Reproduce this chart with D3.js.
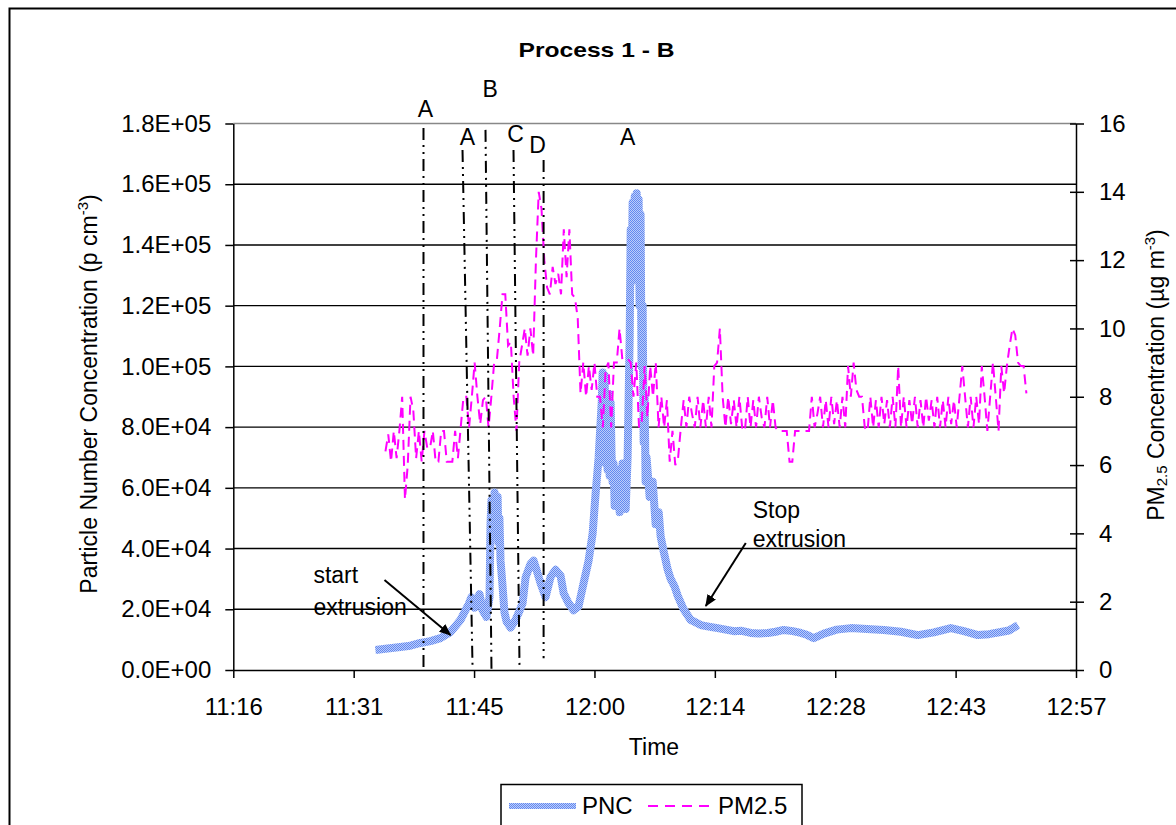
<!DOCTYPE html>
<html><head><meta charset="utf-8">
<script src="https://cdn.jsdelivr.net/npm/d3@7"></script>
<style>
body{margin:0;background:#fff;}
svg text{font-family:"Liberation Sans",Arial,Helvetica,sans-serif;fill:#000;}
</style></head><body>
<svg id="chart" width="1176" height="825"></svg>
<script>
// ---------------- DATA ----------------
const chartTitle = "Process 1 - B";
const xTitle = "Time";
const xTickDays = [0.47, 0.48, 0.49, 0.50, 0.51, 0.52, 0.53, 0.54];
const xTickLabels = ["11:16", "11:31", "11:45", "12:00", "12:14", "12:28", "12:43", "12:57"];
const leftTicks = [0, 20000, 40000, 60000, 80000, 100000, 120000, 140000, 160000, 180000];
const leftTickLabels = ["0.0E+00", "2.0E+04", "4.0E+04", "6.0E+04", "8.0E+04", "1.0E+05", "1.2E+05", "1.4E+05", "1.6E+05", "1.8E+05"];
const rightTicks = [0, 2, 4, 6, 8, 10, 12, 14, 16];
const seriesNames = ["PNC", "PM2.5"];

// PNC (p cm-3): [time, value]
const pncData = [
  ["11:33:48", 6600], ["11:35:00", 7000], ["11:36:47", 7600], ["11:37:59", 8000],
  ["11:39:11", 8900], ["11:40:23", 9500], ["11:41:35", 10500], ["11:42:47", 12500],
  ["11:43:23", 14500], ["11:43:59", 16500], ["11:44:34", 19700], ["11:44:56", 21500],
  ["11:45:17", 24000], ["11:45:39", 20500], ["11:46:01", 23500], ["11:46:15", 25000],
  ["11:46:37", 19700], ["11:47:05", 17500], ["11:47:27", 24000], ["11:47:34", 48000],
  ["11:47:41", 56000], ["11:47:56", 46000], ["11:48:03", 58500], ["11:48:17", 50000],
  ["11:48:25", 57000], ["11:48:31", 42000], ["11:48:38", 50000], ["11:48:46", 36000],
  ["11:49:00", 28000], ["11:49:14", 19000], ["11:49:29", 16000], ["11:49:58", 14000],
  ["11:50:34", 16500], ["11:50:55", 18700], ["11:51:24", 22000], ["11:51:46", 30600],
  ["11:52:22", 35000], ["11:52:43", 36000], ["11:53:04", 33000], ["11:53:33", 28600],
  ["11:54:09", 24000], ["11:54:45", 30600], ["11:55:21", 33000], ["11:55:57", 31000],
  ["11:56:19", 25300], ["11:56:54", 22000], ["11:57:30", 19700], ["11:58:06", 21000],
  ["11:58:42", 28600], ["11:59:18", 36000], ["11:59:47", 45000], ["12:00:08", 58000],
  ["12:00:30", 70000], ["12:00:52", 88000], ["12:00:59", 98000], ["12:01:05", 72000],
  ["12:01:13", 97000], ["12:01:20", 68000], ["12:01:27", 90000], ["12:01:34", 66000],
  ["12:01:41", 91000], ["12:01:49", 64000], ["12:01:56", 88000], ["12:02:03", 70000],
  ["12:02:10", 62000], ["12:02:17", 68000], ["12:02:25", 54000], ["12:02:39", 66000],
  ["12:03:01", 52000], ["12:03:22", 68000], ["12:03:44", 53000], ["12:03:58", 70000],
  ["12:04:13", 110000], ["12:04:20", 145000], ["12:04:27", 128000], ["12:04:34", 154000],
  ["12:04:41", 135000], ["12:04:49", 156000], ["12:04:56", 140000], ["12:05:03", 157000],
  ["12:05:10", 138000], ["12:05:17", 155000], ["12:05:24", 120000], ["12:05:31", 150000],
  ["12:05:38", 100000], ["12:05:46", 120000], ["12:05:53", 75000], ["12:06:00", 90000],
  ["12:06:07", 62000], ["12:06:14", 70000], ["12:06:36", 57000], ["12:06:58", 62000],
  ["12:07:19", 48000], ["12:07:41", 52000], ["12:07:55", 44000], ["12:08:17", 39000],
  ["12:08:46", 33000], ["12:09:07", 30000], ["12:09:35", 27500], ["12:09:57", 24500],
  ["12:10:40", 20000], ["12:11:31", 16500], ["12:12:43", 14800], ["12:13:40", 14300],
  ["12:14:44", 13800], ["12:15:42", 13300], ["12:16:40", 12800], ["12:17:37", 12900],
  ["12:18:41", 12200], ["12:19:39", 12000], ["12:20:44", 12200], ["12:21:41", 12600],
  ["12:22:38", 13200], ["12:23:43", 12800], ["12:24:41", 12200], ["12:25:24", 11600],
  ["12:26:14", 10500], ["12:27:26", 12000], ["12:28:59", 13300], ["12:30:40", 13800],
  ["12:32:35", 13500], ["12:34:37", 13200], ["12:36:39", 12600], ["12:38:41", 11500],
  ["12:40:36", 12400], ["12:42:38", 13800], ["12:44:11", 12800], ["12:45:52", 11500],
  ["12:47:11", 11800], ["12:48:37", 12500], ["12:49:35", 13000], ["12:50:40", 14800]
];

// PM2.5 (ug m-3): sampled every 20 s from pmStart
const pmStart = "11:35:00";
const pmStepSeconds = 20;
const pmValues = [
  6.4, 6.9, 6.1, 7.0, 6.2, 7.0, 8.0, 5.0, 6.0, 8.0, 7.6, 6.2, 7.0, 6.1,
  7.0, 6.5, 6.5, 7.0, 6.1, 6.1, 7.0, 7.0, 6.1, 6.1, 6.1, 7.0, 6.2,
  7.1, 8.0, 8.0, 7.1, 8.0, 9.0,
  8.0, 7.2, 7.9, 8.0, 7.1,
  8.0, 9.0, 9.1,
  10.0, 11.0, 11.0, 9.5,
  9.6, 8.0, 7.0,
  9.0, 9.5, 10.0, 9.2,
  10.0, 9.2,
  12.0, 14.0, 13.5, 12.0, 11.2,
  11.0, 11.8, 11.3, 11.6, 11.0,
  12.9, 11.5, 12.9, 11.0, 10.9, 10.3,
  8.1, 9.0, 8.0, 8.9, 8.2, 9.0,
  8.0, 8.0, 7.1, 8.8,
  9.0, 7.1, 9.0, 9.0, 10.0, 9.1,
  9.1, 9.1, 9.0,
  8.0, 9.0, 7.1, 7.3, 8.9, 7.4,
  8.9, 8.0, 9.0, 7.1, 8.0, 7.1, 7.9,
  6.1, 7.0, 6.0, 6.2,
  7.1, 7.9, 7.1, 8.0, 7.5, 7.1, 8.0, 7.1, 7.9, 7.1, 8.0, 7.1,
  8.9, 9.0, 10.0, 8.0,
  7.1, 8.0, 7.2, 7.9, 7.1, 8.0, 7.1, 7.0, 8.0, 7.1, 7.9, 7.1, 8.0, 7.4, 7.1, 8.0, 7.1, 7.9, 7.1, 7.0,
  7.0, 7.0, 7.0, 6.1, 6.1, 7.0, 7.0, 7.0, 7.0, 7.0, 7.0,
  8.0, 7.1, 7.5, 8.0, 7.1, 7.9, 7.1, 8.0, 7.2, 7.9, 7.1, 8.0, 7.1,
  8.9, 8.0, 9.0, 8.2, 8.0,
  8.0, 7.1, 7.0,
  8.0, 7.1, 7.9, 7.1, 8.0, 7.2, 7.9, 7.1, 8.0, 7.1, 8.9,
  7.1, 8.0, 7.1, 7.9, 7.2, 8.0, 7.1, 7.9, 7.1, 8.0, 7.3, 7.9, 7.1, 8.0, 7.1, 7.9, 7.1, 8.0, 7.2, 7.9, 7.1, 8.0,
  8.9, 8.0, 7.1, 8.0, 7.1, 8.0, 7.2, 8.9, 8.0,
  7.0, 8.0, 9.0, 8.0, 7.0, 8.9, 8.1,
  8.9, 9.5, 10.0, 9.8, 9.0,
  8.9, 8.9, 8.1
];

// Event marker lines (time/PNC value of their two ends)
const eventLines = [
  ["11:39:33", 178500, "11:39:33", 1000],
  ["11:44:13", 171300, "11:45:25", 1100],
  ["11:46:58", 177900, "11:47:41", 0],
  ["11:50:19", 171300, "11:51:02", 1600],
  ["11:53:55", 168000, "11:53:55", 3900]
];
const eventLabels = [
  ["A", "11:39:47", 182100], ["A", "11:44:49", 172900], ["B", "11:47:31", 188700],
  ["C", "11:50:34", 173900], ["D", "11:53:11", 170300], ["A", "12:03:58", 172900]
];
const noteTexts = [
  [["start", "extrusion"], "11:26:23", 28650, 18100],
  [["Stop", "extrusion"], "12:18:56", 50060, 40510]
];
const noteArrows = [
  ["11:34:53", 29640, "11:42:47", 11530],
  ["12:18:06", 41830, "12:13:19", 21080]
];

// ---------------- DRAW ----------------
const svg = d3.select("#chart");
const M = {left: 233.3, right: 1076, top: 123.5, bottom: 670};
const toMin = s => { const p = s.split(":").map(Number); return p[0] * 60 + p[1] + (p[2] || 0) / 60; };
const x = d3.scaleLinear().domain([xTickDays[0] * 1440, xTickDays[xTickDays.length - 1] * 1440]).range([M.left, M.right]);
const yL = d3.scaleLinear().domain([0, 180000]).range([M.bottom, M.top]);
const yR = d3.scaleLinear().domain([0, 16]).range([M.bottom, M.top]);
const FONT = '"Liberation Sans", Arial, Helvetica, sans-serif';

svg.append("rect").attr("width", 1176).attr("height", 825).attr("fill", "#fff");
svg.append("path").attr("d", "M9.5,830V8.5H1180").attr("fill", "none").attr("stroke", "#000").attr("stroke-width", 2);

const defs = svg.append("defs");
const pat = defs.append("pattern").attr("id", "pncPat").attr("patternUnits", "userSpaceOnUse").attr("width", 2).attr("height", 2);
pat.append("rect").attr("width", 2).attr("height", 2).attr("fill", "#bccdfb");
pat.append("rect").attr("width", 1).attr("height", 1).attr("fill", "#6389ef");
pat.append("rect").attr("x", 1).attr("y", 1).attr("width", 1).attr("height", 1).attr("fill", "#6389ef");
defs.append("marker").attr("id", "arrow").attr("markerUnits", "userSpaceOnUse")
  .attr("markerWidth", 12).attr("markerHeight", 10).attr("refX", 11).attr("refY", 5).attr("orient", "auto")
  .append("path").attr("d", "M0,0L12,5L0,10z").attr("fill", "#000");

// title
svg.append("text").attr("x", 596.5).attr("y", 57).attr("text-anchor", "middle")
  .attr("font-size", 21).attr("font-weight", "bold")
  .attr("textLength", 156).attr("lengthAdjust", "spacingAndGlyphs").text(chartTitle);

// gridlines
svg.append("g").selectAll("line").data(leftTicks.filter(d => d > 0)).join("line")
  .attr("x1", M.left).attr("x2", M.right).attr("y1", d => yL(d)).attr("y2", d => yL(d))
  .attr("stroke", d => d === 180000 ? "#888" : "#000").attr("stroke-width", 1.4);

// PNC series
const pncLine = d3.line().x(d => x(toMin(d[0]))).y(d => yL(d[1]));
svg.append("path").datum(pncData).attr("d", pncLine).attr("fill", "none")
  .attr("stroke", "url(#pncPat)").attr("stroke-width", 8).attr("stroke-linejoin", "round");

// PM2.5 series
const pm0 = toMin(pmStart);
const pmData = pmValues.map((v, i) => [pm0 + i * pmStepSeconds / 60, v]);
svg.append("path").datum(pmData).attr("d", d3.line().x(d => x(d[0])).y(d => yR(d[1])))
  .attr("fill", "none").attr("stroke", "#ff00ff").attr("stroke-width", 2).attr("stroke-dasharray", "10,6");

// axes
function styleAxis(g) {
  g.attr("font-size", 24).attr("font-family", FONT);
  g.selectAll("text").attr("fill", "#000");
  g.selectAll("line").attr("stroke", "#000").attr("stroke-width", 1.5);
  g.select(".domain").attr("stroke", "#000").attr("stroke-width", 1.5);
}
svg.append("g").attr("transform", `translate(${M.left},0)`)
  .call(d3.axisLeft(yL).tickValues(leftTicks).tickFormat((d, i) => leftTickLabels[i]).tickSizeInner(8).tickSizeOuter(0).tickPadding(14))
  .call(styleAxis);
const gR = svg.append("g").attr("transform", `translate(${M.right},0)`)
  .call(d3.axisRight(yR).tickValues(rightTicks).tickFormat(d3.format("d")).tickSizeInner(8).tickSizeOuter(0).tickPadding(15))
  .call(styleAxis);
gR.selectAll(".tick").append("line").attr("x1", -6).attr("x2", 0).attr("stroke", "#000").attr("stroke-width", 1.5);
svg.append("g").attr("transform", `translate(0,${M.bottom})`)
  .call(d3.axisBottom(x).tickValues(xTickDays.map(d => d * 1440)).tickFormat((d, i) => xTickLabels[i]).tickSizeInner(8).tickSizeOuter(0).tickPadding(20))
  .call(styleAxis);

// axis titles
svg.append("text").attr("x", 654).attr("y", 755).attr("text-anchor", "middle").attr("font-size", 23).text(xTitle);
const lt = svg.append("text").attr("transform", "translate(97,394) rotate(-90)").attr("text-anchor", "middle").attr("font-size", 23);
lt.append("tspan").text("Particle Number Concentration (p cm");
lt.append("tspan").attr("font-size", 15).attr("dy", -9).text("-3");
lt.append("tspan").attr("dy", 9).text(")");
const rt = svg.append("text").attr("transform", "translate(1164,375) rotate(-90)").attr("text-anchor", "middle").attr("font-size", 23);
rt.append("tspan").text("PM");
rt.append("tspan").attr("font-size", 15).attr("dy", 3).text("2.5");
rt.append("tspan").attr("dy", -3).text(" Concentration (µg m");
rt.append("tspan").attr("font-size", 15).attr("dy", -9).text("-3");
rt.append("tspan").attr("dy", 9).text(")");

// event lines and labels
svg.append("g").selectAll("line").data(eventLines).join("line")
  .attr("x1", d => x(toMin(d[0]))).attr("y1", d => yL(d[1]))
  .attr("x2", d => x(toMin(d[2]))).attr("y2", d => yL(d[3]))
  .attr("stroke", "#000").attr("stroke-width", 2).attr("stroke-dasharray", "12,5,2,5,2,5");
svg.append("g").selectAll("text").data(eventLabels).join("text")
  .attr("x", d => x(toMin(d[1]))).attr("y", d => yL(d[2])).attr("text-anchor", "middle")
  .attr("font-size", 23).text(d => d[0]);

// notes
noteTexts.forEach(n => {
  svg.append("text").attr("x", x(toMin(n[1]))).attr("y", yL(n[2])).attr("font-size", 23).text(n[0][0]);
  svg.append("text").attr("x", x(toMin(n[1]))).attr("y", yL(n[3])).attr("font-size", 23).text(n[0][1]);
});
svg.append("g").selectAll("line").data(noteArrows).join("line")
  .attr("x1", d => x(toMin(d[0]))).attr("y1", d => yL(d[1]))
  .attr("x2", d => x(toMin(d[2]))).attr("y2", d => yL(d[3]))
  .attr("stroke", "#000").attr("stroke-width", 2).attr("marker-end", "url(#arrow)");

// legend
const lg = svg.append("g");
lg.append("rect").attr("x", 501).attr("y", 784.5).attr("width", 301).attr("height", 60)
  .attr("fill", "#fff").attr("stroke", "#000").attr("stroke-width", 1.5);
lg.append("line").attr("x1", 509).attr("x2", 576).attr("y1", 806).attr("y2", 806)
  .attr("stroke", "url(#pncPat)").attr("stroke-width", 6);
lg.append("text").attr("x", 582).attr("y", 814).attr("font-size", 24).text(seriesNames[0]);
lg.append("line").attr("x1", 648).attr("x2", 712).attr("y1", 806).attr("y2", 806)
  .attr("stroke", "#ff00ff").attr("stroke-width", 2).attr("stroke-dasharray", "10,7");
lg.append("text").attr("x", 718).attr("y", 814).attr("font-size", 24).text(seriesNames[1]);
</script>
</body></html>
